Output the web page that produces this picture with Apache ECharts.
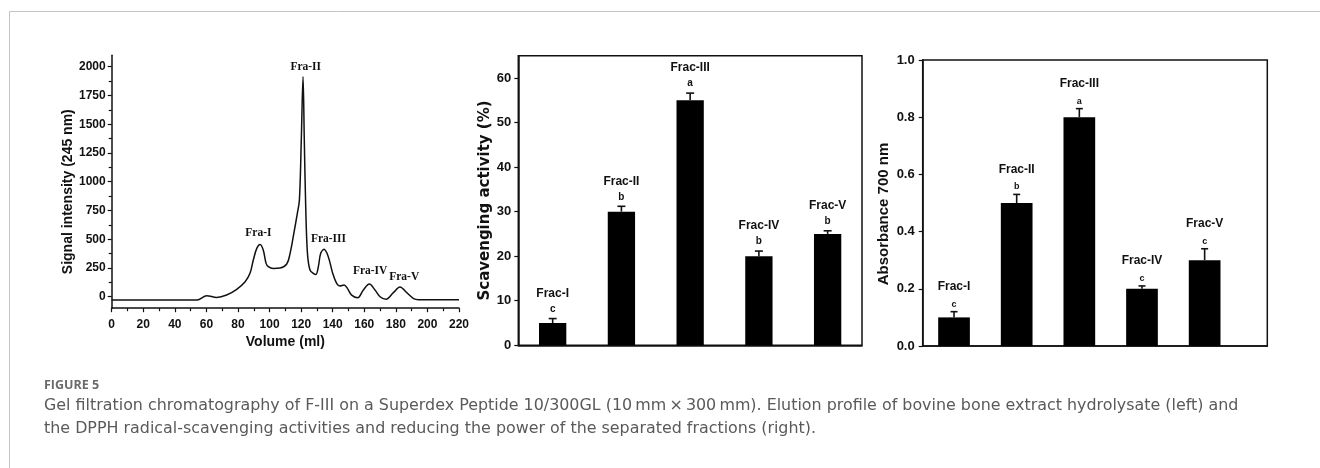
<!DOCTYPE html>
<html>
<head>
<meta charset="utf-8">
<script src="https://cdn.jsdelivr.net/npm/echarts@6/dist/echarts.min.js"></script>
<style>
html,body{margin:0;padding:0;background:#fff;}
#main{width:1320px;height:468px;}
</style>
</head>
<body>
<div id="main"></div>
<script>
// ---------- Data ----------
// Left: elution profile
const volume = [0, 54, 60.2, 66.5, 72.8, 79.2, 84.5, 87.6, 89.7, 91.9, 94, 96, 97.8, 99.2, 102.4, 106.6, 110.9, 113, 115, 117.6, 118.9, 120.1, 121.2, 122, 122.9, 124, 125.6, 127.7, 129.4, 130.9, 132.4, 134.5, 137.2, 140, 142.5, 144.6, 147.2, 149.3, 152, 155.8, 159.4, 163.2, 166.8, 170, 173.8, 178.4, 182.6, 186.9, 191, 194.3, 220];
const signal = [-28, -28, 9, -6, 15, 64, 130, 203, 319, 420, 455, 406, 290, 261, 246, 249, 284, 377, 522, 725, 840, 1362, 1913, 1362, 783, 377, 232, 203, 194, 261, 377, 412, 348, 203, 116, 93, 101, 72, 14, -9, 58, 110, 58, 0, -23, 35, 84, 35, -14, -26, -26];
const peakNames = ['Fra-I', 'Fra-II', 'Fra-III', 'Fra-IV', 'Fra-V'];
const peakLabelX = [92.9, 122.9, 137.3, 163.7, 185.3];
const peakLabelY = [557, 1995, 499, 226, 174];
const signalTicks = [0, 250, 500, 750, 1000, 1250, 1500, 1750, 2000];
const signalMinorTicks = [125, 375, 625, 875, 1125, 1375, 1625, 1875];

// Middle: DPPH scavenging
const fractions = ['Frac-I', 'Frac-II', 'Frac-III', 'Frac-IV', 'Frac-V'];
const scavenging = [5, 30, 55, 20, 25];
const scavengingErr = [1.0, 1.2, 1.6, 1.15, 0.7];
const scavengingLetters = ['c', 'b', 'a', 'b', 'b'];
const scavengingTicks = [0, 10, 20, 30, 40, 50, 60];

// Right: reducing power
const reducing = [0.1, 0.5, 0.8, 0.2, 0.3];
const reducingErr = [0.02, 0.03, 0.03, 0.01, 0.04];
const reducingLetters = ['c', 'b', 'a', 'c', 'c'];

// ---------- Chart ----------
const chart = echarts.init(document.getElementById('main'), null, {renderer: 'canvas'});
const SANS = 'Liberation Sans, Arial, sans-serif';
const SERIF = 'Liberation Serif, Times New Roman, serif';
const INK = '#111';

function errRender(opt) {
  return function (params, api) {
    const x = api.value(0), v = api.value(1), e = api.value(2);
    const p0 = api.coord([x, v]);
    const p1 = api.coord([x, v + e]);
    const i = params.dataIndex;
    return {
      type: 'group',
      children: [
        {type: 'line', shape: {x1: p0[0], y1: p0[1], x2: p1[0], y2: p1[1]}, style: {stroke: INK, lineWidth: 1.6}},
        {type: 'line', shape: {x1: p1[0] - opt.cap, y1: p1[1], x2: p1[0] + opt.cap, y2: p1[1]}, style: {stroke: INK, lineWidth: 1.6}},
        {type: 'text', x: p1[0], y: p1[1] - opt.letterGap, style: {text: opt.letters[i], font: 'bold ' + opt.letterSize + 'px ' + SANS, fill: INK, align: 'center', verticalAlign: 'middle'}},
        {type: 'text', x: p1[0], y: p1[1] - opt.nameGap, style: {text: fractions[i], font: 'bold 12px ' + SANS, fill: INK, align: 'center', verticalAlign: 'middle'}}
      ]
    };
  };
}

const option = {
  animation: false,
  backgroundColor: '#fff',
  graphic: [
    {type: 'rect', silent: true, shape: {x: 9.5, y: 11.5, width: 1330, height: 480}, style: {fill: 'none', stroke: '#c4c4c4', lineWidth: 1}},
    {type: 'text', left: 44, top: 379, style: {text: 'FIGURE 5', font: 'bold 12.5px "Open Sans", sans-serif', fill: '#6a6a6a'}},
    {type: 'text', left: 44, top: 398, style: {text: 'Gel filtration chromatography of F-III on a Superdex Peptide 10/300GL (10\u2009mm\u2009\u00d7\u2009300\u2009mm). Elution profile of bovine bone extract hydrolysate (left) and', font: '15.9px "DejaVu Sans", sans-serif', fill: '#5a5a5a'}},
    {type: 'text', left: 44, top: 421, style: {text: 'the DPPH radical-scavenging activities and reducing the power of the separated fractions (right).', font: '15.9px "DejaVu Sans", sans-serif', fill: '#5a5a5a'}}
  ],
  grid: [
    {left: 111.7, top: 55.2, width: 347.3, height: 253},
    {left: 518.3, top: 55.7, width: 343.7, height: 289.6, show: true, borderColor: INK, borderWidth: 1.5},
    {left: 922.7, top: 60, width: 344.6, height: 286, show: true, borderColor: INK, borderWidth: 1.5}
  ],
  xAxis: [
    {
      gridIndex: 0, type: 'value', min: 0, max: 220, interval: 20, position: 'bottom',
      name: 'Volume (ml)', nameLocation: 'middle', nameGap: 26,
      nameTextStyle: {fontFamily: SANS, fontWeight: 'bold', fontSize: 14, color: INK},
      axisLine: {show: true, onZero: false, lineStyle: {color: INK, width: 1.5}},
      axisTick: {show: true, inside: false, length: 4, lineStyle: {color: INK, width: 1.2}},
      minorTick: {show: true, splitNumber: 2, length: 3, lineStyle: {color: INK, width: 1.2}},
      axisLabel: {fontFamily: SANS, fontWeight: 'bold', fontSize: 12, color: INK, margin: 10},
      splitLine: {show: false}, minorSplitLine: {show: false}
    },
    {
      gridIndex: 1, type: 'category', data: fractions, boundaryGap: true,
      axisLine: {show: true, lineStyle: {color: INK, width: 1.5}},
      axisTick: {show: false}, axisLabel: {show: false}, splitLine: {show: false}
    },
    {
      gridIndex: 2, type: 'value', min: 0.5, max: 6,
      axisLine: {show: true, onZero: false, lineStyle: {color: INK, width: 1.5}},
      axisTick: {show: false}, axisLabel: {show: false}, splitLine: {show: false}
    }
  ],
  yAxis: [
    {
      gridIndex: 0, type: 'value', min: -100, max: 2100, interval: 25, position: 'left',
      name: 'Signal intensity (245 nm)', nameLocation: 'middle', nameGap: 23,
      nameTextStyle: {fontFamily: SANS, fontWeight: 'bold', fontSize: 14, color: INK, padding: [0, 20, 0, 0]},
      axisLine: {show: true, onZero: false, lineStyle: {color: INK, width: 1.5}},
      axisTick: {show: true, length: 4, customValues: signalTicks, lineStyle: {color: INK, width: 1.2}},
      axisLabel: {fontFamily: SANS, fontWeight: 'bold', fontSize: 12, color: INK, margin: 6, customValues: signalTicks, formatter: v => String(v)},
      splitLine: {show: false}
    },
    {
      gridIndex: 0, type: 'value', min: -100, max: 2100, interval: 25, position: 'left',
      axisLine: {show: false, onZero: false},
      axisTick: {show: true, length: 3, customValues: signalMinorTicks, lineStyle: {color: INK, width: 1.2}},
      axisLabel: {show: false}, splitLine: {show: false}
    },
    {
      gridIndex: 1, type: 'value', min: 0, max: 65, interval: 5,
      name: 'Scavenging activity (%)', nameLocation: 'middle', nameGap: 19,
      nameTextStyle: {fontFamily: 'DejaVu Sans, sans-serif', fontWeight: 'bold', fontSize: 15, color: INK},
      axisLine: {show: true, lineStyle: {color: INK, width: 1.5}},
      axisTick: {show: true, length: 4, customValues: scavengingTicks, lineStyle: {color: INK, width: 1.2}},
      axisLabel: {fontFamily: SANS, fontWeight: 'bold', fontSize: 13, color: INK, margin: 7, customValues: scavengingTicks},
      splitLine: {show: false}
    },
    {
      gridIndex: 2, type: 'value', min: 0, max: 1, interval: 0.2,
      name: 'Absorbance 700 nm', nameLocation: 'middle', nameGap: 31,
      nameTextStyle: {fontFamily: SANS, fontWeight: 'bold', fontSize: 15, color: INK, padding: [0, 22, 0, 0]},
      axisLine: {show: true, onZero: false, lineStyle: {color: INK, width: 1.5}},
      axisTick: {show: true, length: 4, lineStyle: {color: INK, width: 1.2}},
      axisLabel: {fontFamily: SANS, fontWeight: 'bold', fontSize: 13, color: INK, margin: 8, formatter: v => v.toFixed(1)},
      splitLine: {show: false}
    }
  ],
  series: [
    {
      type: 'line', xAxisIndex: 0, yAxisIndex: 0,
      data: volume.map((v, i) => [v, signal[i]]),
      showSymbol: false, smooth: 0.35,
      lineStyle: {color: INK, width: 1.5}
    },
    {
      type: 'custom', xAxisIndex: 0, yAxisIndex: 0,
      data: peakNames.map((n, i) => [peakLabelX[i], peakLabelY[i]]),
      renderItem: function (params, api) {
        const p = api.coord([api.value(0), api.value(1)]);
        return {type: 'text', x: p[0], y: p[1], style: {text: peakNames[params.dataIndex], font: 'bold 11.5px ' + SERIF, fill: INK, align: 'center', verticalAlign: 'middle'}};
      }
    },
    {
      type: 'bar', xAxisIndex: 1, yAxisIndex: 2,
      data: scavenging, barWidth: 27.3,
      itemStyle: {color: '#000'}
    },
    {
      type: 'custom', xAxisIndex: 1, yAxisIndex: 2, z: 5,
      data: scavenging.map((v, i) => [i, v, scavengingErr[i]]),
      renderItem: errRender({cap: 4, letterGap: 9.5, nameGap: 25, letterSize: 10, letters: scavengingLetters})
    },
    {
      type: 'bar', xAxisIndex: 2, yAxisIndex: 3,
      data: reducing.map((v, i) => [i + 1, v]), barWidth: 31.7,
      itemStyle: {color: '#000'}
    },
    {
      type: 'custom', xAxisIndex: 2, yAxisIndex: 3, z: 5,
      data: reducing.map((v, i) => [i + 1, v, reducingErr[i]]),
      renderItem: errRender({cap: 3.5, letterGap: 7.5, nameGap: 25, letterSize: 9, letters: reducingLetters})
    }
  ]
};
chart.setOption(option);
</script>
</body>
</html>
